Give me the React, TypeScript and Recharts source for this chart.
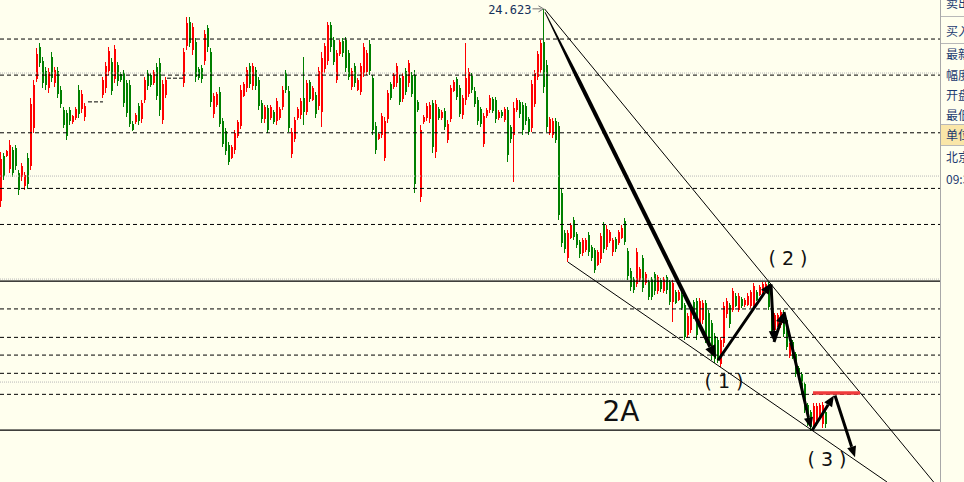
import React from "react";
import { ComposedChart, Bar, XAxis, YAxis, ReferenceLine, ReferenceDot } from "recharts";

type OHLC = [number, number, number, number]; // open, high, low, close

// one slot per bar, null = no bar in that slot (the small dashed gaps)
const bars: (OHLC | null)[] = [
  [22.76,23.23,22.70,23.17],[23.19,23.22,22.96,23.00],[23.19,23.25,23.18,23.24],[23.07,23.35,23.03,23.30],[23.25,23.28,22.99,23.03],
  [23.27,23.30,23.06,23.10],[23.03,23.06,22.82,22.86],[22.99,23.13,22.96,23.10],[22.90,23.04,22.87,23.01],[23.18,23.22,22.87,22.92],
  [23.10,23.76,23.06,23.70],[23.47,23.93,23.42,23.88],[23.94,24.24,23.91,24.18],[24.25,24.29,24.06,24.10],[24.12,24.16,23.86,23.90],
  [24.02,24.06,23.84,23.88],[23.85,24.05,23.81,24.01],[24.16,24.20,23.91,23.95],[23.90,24.06,23.87,24.03],[24.02,24.06,23.76,23.80],
  [23.84,23.87,23.66,23.70],[23.64,23.67,23.47,23.50],[23.61,23.64,23.35,23.39],[23.64,23.67,23.50,23.53],[23.52,23.59,23.50,23.58],
  [23.56,23.67,23.54,23.65],[23.84,23.88,23.56,23.60],[23.65,23.84,23.62,23.80],[23.57,23.71,23.54,23.68],null,
  null,null,null,null,[23.79,23.96,23.76,23.93],
  [23.85,24.11,23.81,24.07],[24.02,24.25,23.98,24.21],[24.11,24.15,23.79,23.83],[23.94,24.27,23.90,24.23],[24.08,24.11,23.88,23.92],
  [23.99,24.01,23.91,23.93],[24.00,24.03,23.67,23.71],[23.90,23.93,23.57,23.61],[23.88,23.93,23.47,23.51],[23.51,23.53,23.43,23.45],
  [23.52,23.61,23.50,23.59],[23.68,23.71,23.50,23.53],[23.55,23.74,23.52,23.71],[23.74,23.96,23.71,23.93],[24.00,24.03,23.84,23.87],
  [23.98,24.00,23.86,23.88],[23.90,24.03,23.88,24.01],[24.06,24.10,23.74,23.78],[24.10,24.15,23.59,23.64],[23.54,23.93,23.50,23.89],
  [23.79,23.96,23.76,23.93],null,null,null,null,
  null,[23.90,24.24,23.86,24.20],[24.26,24.54,24.22,24.49],[24.50,24.54,24.25,24.29],[24.22,24.49,24.18,24.45],
  [24.30,24.34,23.91,23.96],[24.04,24.06,23.93,23.95],[24.05,24.08,23.91,23.94],[24.12,24.42,24.08,24.38],[24.44,24.47,24.21,24.25],
  [24.20,24.24,23.67,23.72],[23.60,23.81,23.57,23.78],[23.69,23.82,23.67,23.80],[23.82,23.86,23.47,23.51],[23.53,23.56,23.28,23.31],
  [23.44,23.47,23.21,23.24],[23.30,23.33,23.11,23.14],[23.18,23.30,23.16,23.28],[23.25,23.45,23.22,23.42],[23.39,23.54,23.37,23.52],
  [23.49,23.88,23.45,23.84],[23.78,23.91,23.76,23.89],[23.85,24.06,23.82,24.03],[24.07,24.10,23.86,23.89],[23.87,24.10,23.84,24.07],
  [24.03,24.06,23.84,23.87],[23.93,23.96,23.64,23.68],[23.71,23.74,23.52,23.55],[23.55,23.69,23.52,23.67],[23.66,23.69,23.42,23.45],
  [23.56,23.69,23.54,23.67],[23.62,23.64,23.50,23.52],[23.53,23.76,23.50,23.73],[23.56,23.67,23.54,23.65],[23.67,23.87,23.64,23.84],
  [24.00,24.03,23.81,23.84],[23.83,23.87,23.42,23.47],[23.21,23.47,23.18,23.43],[23.36,23.57,23.33,23.54],[23.56,23.67,23.54,23.65],
  [23.59,23.76,23.56,23.73],[23.76,24.16,23.50,23.62],[23.62,23.93,23.59,23.90],[23.91,23.93,23.72,23.75],[23.74,23.87,23.72,23.85],
  [23.79,23.82,23.57,23.60],[23.68,24.06,23.64,24.02],[23.62,24.20,23.47,24.15],[24.04,24.29,24.00,24.26],[24.12,24.50,24.08,24.47],
  [24.47,24.50,24.21,24.25],[24.32,24.35,24.08,24.11],[23.93,24.22,23.90,24.19],[24.18,24.32,24.16,24.30],[24.31,24.34,24.16,24.19],
  [24.32,24.35,24.01,24.05],[24.19,24.22,23.93,23.96],[23.86,24.05,23.84,24.02],[24.07,24.10,23.87,23.90],[23.84,23.95,23.82,23.93],
  [23.82,24.10,23.79,24.07],[24.00,24.29,23.96,24.25],[24.01,24.22,23.98,24.19],[24.28,24.32,23.98,24.02],[23.95,23.98,23.40,23.45],
  [23.49,23.52,23.21,23.25],[23.36,23.42,23.35,23.41],[23.40,23.61,23.37,23.58],[23.18,23.57,23.14,23.53],[23.55,23.84,23.52,23.81],
  [23.89,23.91,23.74,23.76],[23.86,24.00,23.84,23.98],[23.90,24.10,23.87,24.07],[23.95,23.98,23.69,23.72],[23.75,24.00,23.72,23.97],
  [24.02,24.05,23.79,23.82],[23.90,24.13,23.87,24.10],[23.98,24.01,23.77,23.80],[23.98,24.03,22.84,22.92],[23.72,23.74,23.62,23.64],
  [22.80,23.50,22.75,23.45],[23.52,23.59,23.50,23.57],[23.56,23.71,23.54,23.68],[23.55,23.72,23.52,23.69],[23.71,23.74,23.23,23.28],
  [23.23,23.74,23.18,23.70],[23.65,23.67,23.54,23.56],[23.56,23.64,23.54,23.62],[23.63,23.66,23.45,23.48],[23.35,23.54,23.32,23.51],
  [23.55,23.88,23.52,23.85],[23.83,23.93,23.81,23.91],[23.94,23.96,23.74,23.77],[23.85,23.88,23.57,23.60],[23.59,23.79,23.56,23.76],
  [23.74,24.29,23.69,23.95],[23.80,24.05,23.77,24.01],[23.97,24.00,23.81,23.84],[23.83,23.86,23.67,23.70],[23.74,23.77,23.50,23.53],
  [23.65,23.67,23.48,23.51],[23.31,23.61,23.28,23.58],[23.58,23.66,23.56,23.64],[23.64,23.79,23.62,23.76],[23.75,23.77,23.61,23.63],
  [23.74,23.77,23.52,23.55],[23.56,23.64,23.54,23.62],[23.62,23.64,23.56,23.58],[23.54,23.67,23.52,23.65],[23.64,23.67,23.14,23.20],
  [23.48,23.50,23.33,23.36],[23.40,23.72,22.94,23.66],[23.64,23.76,23.62,23.74],[23.72,23.74,23.57,23.60],[23.69,23.72,23.40,23.45],
  [23.68,23.71,23.50,23.53],[23.55,23.57,23.40,23.43],[23.47,23.93,23.43,23.89],[23.70,24.03,23.67,24.00],[23.96,24.21,23.93,24.18],
  [24.03,24.32,24.00,24.29],[24.30,24.623,23.81,23.86],[24.08,24.13,23.43,23.48],[23.42,23.57,23.40,23.55],[23.40,23.56,23.37,23.53],
  [23.53,23.56,23.32,23.35],[23.49,23.52,22.57,22.62],[22.84,22.87,22.31,22.35],[22.45,22.48,22.26,22.29],[22.20,22.48,22.17,22.45],
  [22.40,22.54,22.38,22.52],[22.57,22.60,22.38,22.41],[22.44,22.46,22.30,22.33],[22.36,22.38,22.21,22.24],[22.25,22.40,22.23,22.38],
  [22.28,22.40,22.26,22.38],[22.43,22.46,22.23,22.26],[22.31,22.33,22.17,22.20],[22.28,22.30,22.06,22.09],[22.14,22.28,22.12,22.26],
  [22.19,22.45,22.16,22.42],[22.52,22.55,22.25,22.29],[22.31,22.52,22.28,22.49],[22.37,22.48,22.35,22.46],[22.26,22.40,22.23,22.38],
  [22.39,22.41,22.26,22.29],[22.35,22.48,22.33,22.46],[22.40,22.52,22.38,22.50],[22.56,22.59,22.33,22.36],[22.27,22.30,21.99,22.03],
  [22.08,22.11,21.89,21.92],[22.00,22.02,21.86,21.89],[21.95,22.30,21.92,22.26],[21.99,22.12,21.97,22.10],[22.20,22.23,21.87,21.91],
  [21.96,22.07,21.94,22.05],[21.97,21.99,21.80,21.83],[22.00,22.02,21.80,21.83],[22.05,22.07,21.85,21.88],[21.88,22.04,21.86,22.02],
  [21.99,22.01,21.87,21.90],[21.88,22.02,21.86,22.00],[22.02,22.04,21.86,21.89],[21.97,21.99,21.75,21.78],[21.78,21.99,21.58,21.96],
  [21.87,21.89,21.75,21.77],[21.80,21.89,21.78,21.87],[21.85,21.87,21.70,21.72],[21.75,21.77,21.41,21.44],[21.46,21.67,21.43,21.64],
  [21.51,21.75,21.48,21.72],[21.78,21.80,21.62,21.65],[21.79,21.82,21.41,21.46],[21.56,21.82,21.53,21.79],[21.60,21.80,21.57,21.77],
  [21.77,21.80,21.38,21.42],[21.67,21.70,21.34,21.38],[21.57,21.60,21.21,21.25],[21.45,21.48,21.19,21.22],[21.41,21.44,21.19,21.22],
  [21.18,21.44,21.15,21.41],[21.38,21.78,21.34,21.74],[21.66,21.82,21.63,21.79],[21.75,21.77,21.53,21.56],[21.70,21.91,21.68,21.88],
  [21.84,21.86,21.72,21.74],[21.70,21.86,21.68,21.84],[21.81,21.83,21.72,21.74],[21.75,21.82,21.73,21.80],[21.75,21.86,21.73,21.84],
  [21.74,21.89,21.72,21.87],[21.75,21.96,21.72,21.93],[21.87,21.89,21.78,21.80],[21.85,21.94,21.83,21.92],[21.87,21.97,21.85,21.95],
  [21.88,21.97,21.86,21.95],[21.95,21.97,21.70,21.73],[21.82,21.85,21.48,21.51],[21.51,21.67,21.49,21.65],[21.55,21.67,21.53,21.65],
  [21.55,21.70,21.53,21.68],[21.68,21.70,21.44,21.47],[21.60,21.62,21.31,21.34],[21.25,21.38,21.23,21.36],[21.39,21.41,21.23,21.26],
  [21.27,21.29,21.05,21.08],[21.14,21.16,21.04,21.06],[21.08,21.10,20.89,20.92],[20.98,21.00,20.70,20.73],[20.78,20.80,20.58,20.61],
  [20.71,20.73,20.53,20.56],[20.58,20.80,20.55,20.77],[20.61,20.80,20.58,20.77],[20.68,20.80,20.66,20.78],[20.59,20.81,20.56,20.78],
  [20.71,20.73,20.56,20.59],
];

const dashedLevels = [24.33, 23.98, 23.42, 22.88, 22.53, 21.71, 21.434, 21.262, 21.085, 20.881];
const solidLevels = [21.98, 20.534];
const gridLevels = [24, 23, 22, 21];

// [barSlot, price] pairs
const waveArrows: [number, number][][] = [
  [[181.67, 24.59], [238.67, 21.23]],
  [[239.33, 21.21], [257.0, 21.96]],
  [[257.0, 21.95], [258.0, 21.39]],
  [[258.0, 21.39], [261.33, 21.68]],
  [[261.33, 21.68], [270.33, 20.55]],
  [[270.67, 20.53], [278.0, 20.87]],
  [[278.33, 20.87], [285.0, 20.27]],
];
const channelLines: [number, number][][] = [
  [[181.5, 24.623], [311.2, 20.03]],
  [[189.33, 22.165], [295.67, 20.03]],
];
const resistance: [number, number][] = [[271, 20.894], [286.67, 20.894]];
const gapMarks: [number, number][][] = [
  [[29.33, 23.72], [34.33, 23.72]],
  [[55.67, 23.95], [61, 23.95]],
];
const waveLabels = [
  { text: "( 1 )", x: 241.33, y: 21.01 },
  { text: "( 2 )", x: 262.67, y: 22.205 },
  { text: "( 3 )", x: 275.67, y: 20.253 },
];
const setupLabel = { text: "2A", x: 207, y: 20.71 };
const panelRows = ["卖出", "买入", "最新", "幅度", "开盘", "最低", "单位", "北京", "09:30"];

const peakSlot = 181;
const peakPrice = bars[peakSlot]![1];

const W = 940;
const H = 482;
const BG = "#ffffee";

const data = bars.flatMap((b, i) =>
  b ? [{ x: i + 0.5, o: b[0], h: b[1], l: b[2], c: b[3], range: [b[2], b[1]] }] : []
);

const Candle = (props: any) => {
  const { x, y, width, height, payload } = props;
  if (x == null || y == null) return null;
  const top = Math.min(y, y + height);
  const bottom = Math.max(y, y + height);
  const { o, h, l, c } = payload;
  const span = h - l || 1;
  const toY = (v: number) => top + ((h - v) / span) * (bottom - top);
  const cx = Math.round(x + width / 2);
  const color = c >= o ? "#ff0000" : "#008000";
  const bTop = Math.round(toY(Math.max(o, c)));
  const bBot = Math.max(bTop + 1, Math.round(toY(Math.min(o, c))));
  return (
    <g shapeRendering="crispEdges">
      <rect x={cx - 1} y={Math.round(top)} width={1} height={Math.max(1, Math.round(bottom - top))} fill={color} />
      <rect x={cx - 1} y={bTop} width={2} height={bBot - bTop} fill={color} />
    </g>
  );
};

// arrow drawn as a tapered shaft plus a filled head
const arrowShape = (w: number, head: number, taper: boolean) => (p: any) => {
  const { x1, y1, x2, y2 } = p;
  const dx = x2 - x1;
  const dy = y2 - y1;
  const len = Math.hypot(dx, dy) || 1;
  const ux = dx / len;
  const uy = dy / len;
  const bx = x2 - ux * head;
  const by = y2 - uy * head;
  const hw = head * 0.42;
  const w0 = taper ? 0.8 : w;
  const mx = x1 + ux * len * 0.2;
  const my = y1 + uy * len * 0.2;
  const side = (px: number, py: number, half: number, s: number) => `${px - uy * half * s},${py + ux * half * s}`;
  const shaft = [
    side(x1, y1, w0 / 2, 1),
    side(mx, my, w / 2, 1),
    side(bx, by, w / 2, 1),
    side(bx, by, w / 2, -1),
    side(mx, my, w / 2, -1),
    side(x1, y1, w0 / 2, -1),
  ].join(" ");
  return (
    <g>
      <polygon points={shaft} fill="#000" />
      <polygon
        points={`${x2},${y2} ${bx - uy * hw},${by + ux * hw} ${bx + uy * hw},${by - ux * hw}`}
        fill="#000"
      />
    </g>
  );
};

const seg = (s: [number, number][]) => s.map(([x, y]) => ({ x, y }));

export default function App() {
  return (
    <div style={{ position: "absolute", left: 0, top: 0, width: 964, height: 482, background: BG, overflow: "hidden" }}>
      <ComposedChart width={W} height={H} data={data} margin={{ top: 0, right: 0, bottom: 0, left: 0 }}>
        <XAxis type="number" dataKey="x" domain={[0, W / 3]} hide allowDataOverflow />
        <YAxis type="number" domain={[20.03, 24.709]} hide allowDataOverflow />

        {gridLevels.map((v) => (
          <ReferenceLine key={"g" + v} y={v} stroke="#b8b8b8" strokeDasharray="1 1" />
        ))}
        {dashedLevels.map((v) => (
          <ReferenceLine key={"d" + v} y={v} stroke="#000" strokeDasharray="4 3" />
        ))}
        {solidLevels.map((v) => (
          <ReferenceLine key={"s" + v} y={v} stroke="#000" strokeWidth={1.3} />
        ))}
        {gapMarks.map((s, i) => (
          <ReferenceLine key={"gap" + i} segment={seg(s)} stroke="#000" strokeDasharray="4 2" ifOverflow="visible" />
        ))}

        <Bar dataKey="range" barSize={2} shape={Candle} isAnimationActive={false} />

        {channelLines.map((s, i) => (
          <ReferenceLine key={"ch" + i} segment={seg(s)} stroke="#000" strokeWidth={1} ifOverflow="visible" />
        ))}
        <ReferenceLine segment={seg(resistance)} stroke="#f03c3c" strokeWidth={3.5} ifOverflow="visible" />
        {waveArrows.map((s, i) => (
          <ReferenceLine
            key={"a" + i}
            segment={seg(s)}
            ifOverflow="visible"
            shape={i === 0 ? arrowShape(4, 13, true) : arrowShape(3, 11, false)}
          />
        ))}

        <ReferenceDot
          x={peakSlot + 0.5}
          y={peakPrice}
          r={1}
          ifOverflow="visible"
          shape={(p: any) => (
            <g>
              <text
                x={p.cx - 13}
                y={p.cy + 1}
                textAnchor="end"
                dominantBaseline="central"
                fontFamily="DejaVu Sans Mono"
                fontSize={12}
                fill="#16325c"
              >
                {peakPrice.toFixed(3)}
              </text>
              <line x1={p.cx - 12} y1={p.cy} x2={p.cx - 3} y2={p.cy} stroke="#707070" />
              <polyline
                points={`${p.cx - 6},${p.cy - 3} ${p.cx - 1},${p.cy} ${p.cx - 6},${p.cy + 3}`}
                fill="none"
                stroke="#707070"
              />
            </g>
          )}
        />
        {waveLabels.map((lb) => (
          <ReferenceDot
            key={lb.text}
            x={lb.x}
            y={lb.y}
            r={1}
            ifOverflow="visible"
            shape={(p: any) => (
              <text
                x={p.cx}
                y={p.cy}
                textAnchor="middle"
                dominantBaseline="central"
                fontFamily="DejaVu Sans"
                fontSize={19}
                fill="#111"
              >
                {lb.text}
              </text>
            )}
          />
        ))}
        <ReferenceDot
          x={setupLabel.x}
          y={setupLabel.y}
          r={1}
          ifOverflow="visible"
          shape={(p: any) => (
            <text
              x={p.cx}
              y={p.cy}
              textAnchor="middle"
              dominantBaseline="central"
              fontFamily="DejaVu Sans"
              fontSize={28}
              fill="#111"
            >
              {setupLabel.text}
            </text>
          )}
        />
      </ComposedChart>

      {/* quote panel on the right, mostly cut off as in the screenshot */}
      <div
        style={{
          position: "absolute",
          left: W,
          top: 0,
          width: 964 - W - 1,
          height: H,
          borderLeft: "1px solid #a8a8a8",
          overflow: "hidden",
          fontFamily: "'Noto Sans CJK SC'",
          fontSize: 12,
          color: "#1c3a70",
          whiteSpace: "nowrap",
        }}
      >
        <div style={{ position: "absolute", left: 0, top: 124, width: 40, height: 21, background: "#fae6a8" }} />
        {[16, 43, 124, 145].map((t) => (
          <div key={t} style={{ position: "absolute", left: 0, top: t, width: 40, height: 1, background: "#b8b8b8" }} />
        ))}
        {panelRows.map((r, i) => (
          <div
            key={r}
            style={{
              position: "absolute",
              left: 5,
              top: [3, 31, 54, 75, 95, 115, 135, 157, 179][i] - 8,
              height: 16,
              lineHeight: "16px",
            }}
          >
            {r}
          </div>
        ))}
      </div>
    </div>
  );
}
